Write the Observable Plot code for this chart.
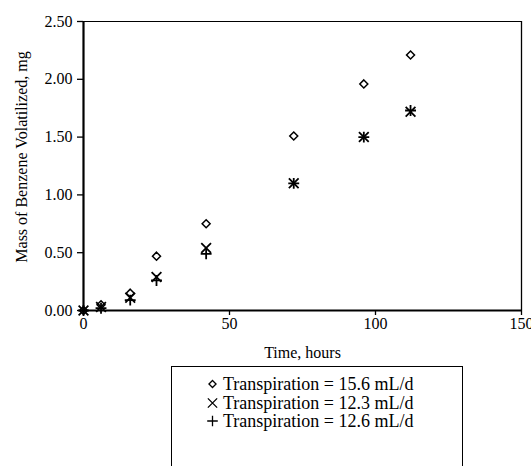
<!DOCTYPE html>
<html>
<head>
<meta charset="utf-8">
<script src="https://cdn.jsdelivr.net/npm/d3@7"></script>
<script src="https://cdn.jsdelivr.net/npm/@observablehq/plot@0.6"></script>
<style>
  html, body { margin: 0; padding: 0; background: #fff; }
  #chart { width: 531px; height: 466px; overflow: hidden; position: relative; font-family: "Liberation Serif", "Times New Roman", serif; }
  #legend { position: absolute; left: 171px; top: 366px; width: 292px; height: 130px; border: 1.3px solid #000; box-sizing: border-box; }
  .row { position: absolute; left: 0; height: 18px; font-size: 18px; color: #000; }
  .row svg { position: absolute; left: 30px; top: 0; }
  .row span { position: absolute; left: 51px; top: 0; white-space: nowrap; line-height: 18px; }
</style>
</head>
<body>
<div id="chart"></div>
<script>
// Data
const hours    = [0, 6, 16, 25, 42, 72, 96, 112];
const mass156  = [0, 0.05, 0.15, 0.47, 0.75, 1.51, 1.96, 2.21];
const mass123  = [0, 0.03, 0.11, 0.29, 0.54, 1.10, 1.50, 1.72];
const mass126  = [0, 0.02, 0.09, 0.26, 0.49, 1.10, 1.50, 1.73];
const seriesNames = ["Transpiration = 15.6 mL/d", "Transpiration = 12.3 mL/d", "Transpiration = 12.6 mL/d"];
const seriesSymbols = ["diamond2", "times", "plus"];
const xTicks = [0, 50, 100, 150];
const yTicks = [0, 0.5, 1.0, 1.5, 2.0, 2.5];
const xTitle = "Time, hours";
const yTitle = "Mass of Benzene Volatilized, mg";

const seriesValues = [mass156, mass123, mass126];
const data = seriesValues.flatMap((vals, s) =>
  hours.map((h, i) => ({hours: h, mass: vals[i], series: seriesNames[s]})));

const symbolScale = {domain: seriesNames, range: seriesSymbols};
const FONT = "Liberation Serif, Times New Roman, serif";

const plot = Plot.plot({
  width: 531,
  height: 366,
  marginLeft: 83,
  marginRight: 10,
  marginTop: 21,
  marginBottom: 56,
  style: {fontFamily: FONT, fontSize: "16px", color: "#000", background: "#fff", overflow: "visible"},
  x: {domain: [0, 150]},
  y: {domain: [0, 2.5]},
  symbol: symbolScale,
  marks: [
    Plot.axisX({ticks: xTicks, tickSize: 5, tickPadding: 2, tickFormat: d => String(d), label: null, stroke: "#000", strokeWidth: 1.3, fontSize: 16}),
    Plot.axisY({ticks: yTicks, tickSize: 6, tickPadding: 5, tickFormat: d3.format(".2f"), label: null, stroke: "#000", strokeWidth: 1.3, fontSize: 16}),
    Plot.text([xTitle], {frameAnchor: "bottom", textAnchor: "middle", lineAnchor: "middle", dy: 42, fontSize: 16}),
    Plot.text([yTitle], {frameAnchor: "left", textAnchor: "middle", lineAnchor: "middle", rotate: -90, dx: -62, dy: -9, fontSize: 16}),
    Plot.ruleY([2.5], {stroke: "#000", strokeWidth: 1}),
    Plot.ruleX([150], {stroke: "#000", strokeWidth: 1.3}),
    Plot.ruleX([0], {stroke: "#000", strokeWidth: 2.2}),
    Plot.ruleY([0], {stroke: "#000", strokeWidth: 2.2}),
    Plot.dot(data.filter(d => d.series === seriesNames[2]), {x: "hours", y: "mass", symbol: "series", r: 3.6, stroke: "#000", strokeWidth: 1.8, fill: "none"}),
    Plot.dot(data.filter(d => d.series === seriesNames[1]), {x: "hours", y: "mass", symbol: "series", r: 4.5, stroke: "#000", strokeWidth: 1.8, fill: "none"}),
    Plot.dot(data.filter(d => d.series === seriesNames[0]), {x: "hours", y: "mass", symbol: "series", r: 3.6, stroke: "#000", strokeWidth: 1.5, fill: "none"})
  ]
});
const chart = document.getElementById("chart");
chart.appendChild(plot);

// Legend below the SVG
const legend = document.createElement("div");
legend.id = "legend";
const rowTops = [8, 26.5, 45];
const legendR = [3.2, 4.3, 3.5];
seriesNames.forEach((name, i) => {
  const row = document.createElement("div");
  row.className = "row";
  row.style.top = rowTops[i] + "px";
  const sym = {diamond2: d3.symbolDiamond2, times: d3.symbolTimes, plus: d3.symbolPlus}[seriesSymbols[i]];
  const size = Math.PI * legendR[i] * legendR[i];
  const svg = d3.create("svg").attr("width", 20).attr("height", 18);
  svg.append("path").attr("transform", "translate(10.5,9)")
    .attr("d", d3.symbol(sym, size)())
    .attr("fill", "none").attr("stroke", "#000").attr("stroke-width", 1.3);
  row.appendChild(svg.node());
  const span = document.createElement("span");
  span.textContent = name;
  row.appendChild(span);
  legend.appendChild(row);
});
chart.appendChild(legend);
</script>
</body>
</html>
